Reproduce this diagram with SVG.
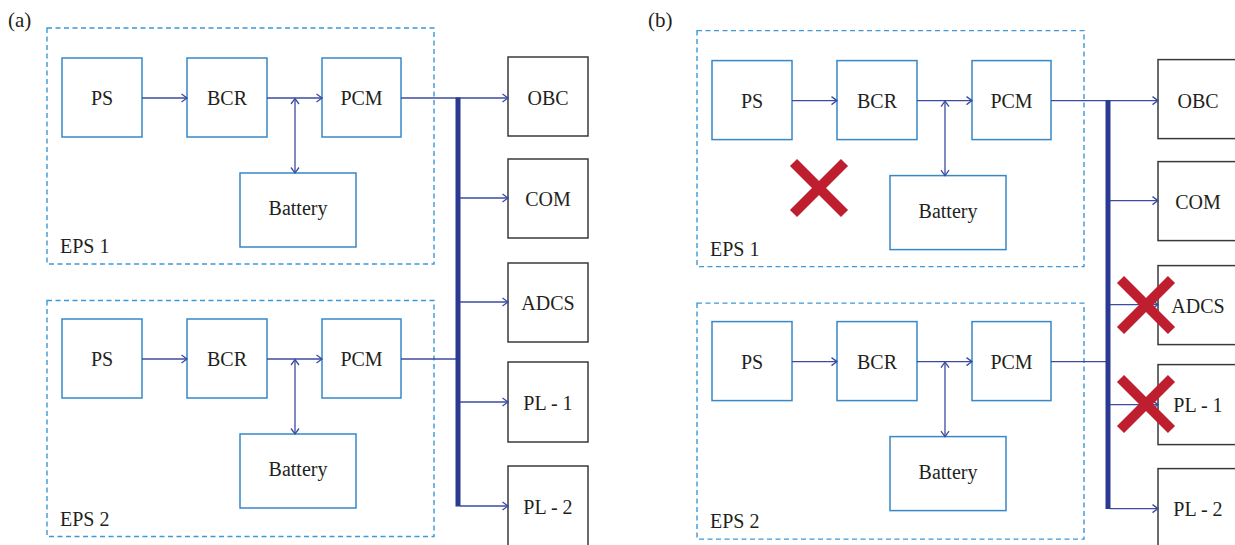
<svg xmlns="http://www.w3.org/2000/svg" width="1235" height="545" viewBox="0 0 1235 545" font-family="Liberation Serif, serif" font-size="20">
<style>
.lbl{text-anchor:middle}
.blue{fill:#fff;stroke:#3588c9;stroke-width:1.5}
.blk{fill:#fff;stroke:#3a3a3a;stroke-width:1.5}
.dash{fill:none;stroke:#3f97d6;stroke-width:1.4;stroke-dasharray:5 3.5}
.con{fill:none;stroke:#3c4ba0;stroke-width:1.3}
.arr{marker-end:url(#ah)}
.dbl{marker-start:url(#ah);marker-end:url(#ah)}
.bus{stroke:#2b3990;stroke-width:5}
.x{fill:none;stroke:#be1e2d;stroke-width:10;stroke-linecap:butt}
</style>
<defs>
<marker id="ah" markerUnits="userSpaceOnUse" markerWidth="10" markerHeight="10" refX="6" refY="4.5" orient="auto-start-reverse" overflow="visible">
<path d="M0.5,0.5 L6,4.5 L0.5,8.5" fill="none" stroke="#3c4ba0" stroke-width="1.3"/>
</marker>
</defs>
<rect width="1235" height="545" fill="#fff"/>

<text x="8" y="27" font-size="21" font-family="Liberation Serif" fill="#231f20">(a)</text>
<text x="648" y="27" font-size="21" font-family="Liberation Serif" fill="#231f20">(b)</text>

<!-- Panel (a) -->
<g id="panel-a">
<g id="a-eps1"><rect class="dash" x="47" y="28" width="387" height="236"/><text x="60" y="253" font-family="Liberation Serif" font-size="20" fill="#231f20">EPS 1</text></g>
<g id="a-eps2"><rect class="dash" x="47" y="300.5" width="387" height="236"/><text x="60" y="525.5" font-family="Liberation Serif" font-size="20" fill="#231f20">EPS 2</text></g>
<g id="a-ps1"><rect class="blue" x="62" y="58" width="80" height="79"/><text x="102" y="105" text-anchor="middle" font-family="Liberation Serif" font-size="20" fill="#231f20">PS</text></g>
<g id="a-bcr1"><rect class="blue" x="187" y="58" width="80" height="79"/><text x="227" y="105" text-anchor="middle" font-family="Liberation Serif" font-size="20" fill="#231f20">BCR</text></g>
<g id="a-pcm1"><rect class="blue" x="322" y="58" width="79" height="79"/><text x="361.5" y="105" text-anchor="middle" font-family="Liberation Serif" font-size="20" fill="#231f20">PCM</text></g>
<g id="a-bat1"><rect class="blue" x="240" y="173" width="116" height="74"/><text x="298" y="215" text-anchor="middle" font-family="Liberation Serif" font-size="20" fill="#231f20">Battery</text></g>
<g id="a-ps2"><rect class="blue" x="62" y="319" width="80" height="79"/><text x="102" y="366" text-anchor="middle" font-family="Liberation Serif" font-size="20" fill="#231f20">PS</text></g>
<g id="a-bcr2"><rect class="blue" x="187" y="319" width="80" height="79"/><text x="227" y="366" text-anchor="middle" font-family="Liberation Serif" font-size="20" fill="#231f20">BCR</text></g>
<g id="a-pcm2"><rect class="blue" x="322" y="319" width="79" height="79"/><text x="361.5" y="366" text-anchor="middle" font-family="Liberation Serif" font-size="20" fill="#231f20">PCM</text></g>
<g id="a-bat2"><rect class="blue" x="240" y="434" width="116" height="74"/><text x="298" y="476" text-anchor="middle" font-family="Liberation Serif" font-size="20" fill="#231f20">Battery</text></g>
<g id="a-obc"><rect class="blk" x="508" y="57" width="80" height="79"/><text x="548" y="105" text-anchor="middle" font-family="Liberation Serif" font-size="20" fill="#231f20">OBC</text></g>
<g id="a-com"><rect class="blk" x="508" y="159" width="80" height="79"/><text x="548" y="206" text-anchor="middle" font-family="Liberation Serif" font-size="20" fill="#231f20">COM</text></g>
<g id="a-adcs"><rect class="blk" x="508" y="263" width="80" height="79"/><text x="548" y="310" text-anchor="middle" font-family="Liberation Serif" font-size="20" fill="#231f20">ADCS</text></g>
<g id="a-pl1"><rect class="blk" x="508" y="362" width="80" height="80"/><text x="548" y="409.5" text-anchor="middle" font-family="Liberation Serif" font-size="20" fill="#231f20">PL - 1</text></g>
<g id="a-pl2"><rect class="blk" x="508" y="466" width="80" height="80"/><text x="548" y="513.5" text-anchor="middle" font-family="Liberation Serif" font-size="20" fill="#231f20">PL - 2</text></g>
<g id="a-connectors">
<line class="con arr" x1="142" y1="98" x2="187" y2="98"/>
<line class="con arr" x1="267" y1="98" x2="322" y2="98"/>
<line class="con dbl" x1="295" y1="98.5" x2="295" y2="173"/>
<line class="con arr" x1="142" y1="359" x2="187" y2="359"/>
<line class="con arr" x1="267" y1="359" x2="322" y2="359"/>
<line class="con dbl" x1="295" y1="359.5" x2="295" y2="434"/>
<line class="con arr" x1="401" y1="98" x2="508" y2="98"/>
<line class="con" x1="401" y1="359" x2="458" y2="359"/>
<line class="bus" x1="458" y1="97.5" x2="458" y2="506.5"/>
<line class="con arr" x1="460" y1="198" x2="508" y2="198"/>
<line class="con arr" x1="460" y1="302" x2="508" y2="302"/>
<line class="con arr" x1="460" y1="402" x2="508" y2="402"/>
<line class="con arr" x1="460" y1="506" x2="508" y2="506"/>
</g>
</g>

<!-- Panel (b) -->
<g id="panel-b" transform="translate(650,2.6)">
<g id="b-eps1"><rect class="dash" x="47" y="28" width="387" height="236"/><text x="60" y="253" font-family="Liberation Serif" font-size="20" fill="#231f20">EPS 1</text></g>
<g id="b-eps2"><rect class="dash" x="47" y="300.5" width="387" height="236"/><text x="60" y="525.5" font-family="Liberation Serif" font-size="20" fill="#231f20">EPS 2</text></g>
<g id="b-ps1"><rect class="blue" x="62" y="58" width="80" height="79"/><text x="102" y="105" text-anchor="middle" font-family="Liberation Serif" font-size="20" fill="#231f20">PS</text></g>
<g id="b-bcr1"><rect class="blue" x="187" y="58" width="80" height="79"/><text x="227" y="105" text-anchor="middle" font-family="Liberation Serif" font-size="20" fill="#231f20">BCR</text></g>
<g id="b-pcm1"><rect class="blue" x="322" y="58" width="79" height="79"/><text x="361.5" y="105" text-anchor="middle" font-family="Liberation Serif" font-size="20" fill="#231f20">PCM</text></g>
<g id="b-bat1"><rect class="blue" x="240" y="173" width="116" height="74"/><text x="298" y="215" text-anchor="middle" font-family="Liberation Serif" font-size="20" fill="#231f20">Battery</text></g>
<g id="b-ps2"><rect class="blue" x="62" y="319" width="80" height="79"/><text x="102" y="366" text-anchor="middle" font-family="Liberation Serif" font-size="20" fill="#231f20">PS</text></g>
<g id="b-bcr2"><rect class="blue" x="187" y="319" width="80" height="79"/><text x="227" y="366" text-anchor="middle" font-family="Liberation Serif" font-size="20" fill="#231f20">BCR</text></g>
<g id="b-pcm2"><rect class="blue" x="322" y="319" width="79" height="79"/><text x="361.5" y="366" text-anchor="middle" font-family="Liberation Serif" font-size="20" fill="#231f20">PCM</text></g>
<g id="b-bat2"><rect class="blue" x="240" y="434" width="116" height="74"/><text x="298" y="476" text-anchor="middle" font-family="Liberation Serif" font-size="20" fill="#231f20">Battery</text></g>
<g id="b-obc"><rect class="blk" x="508" y="57" width="80" height="79"/><text x="548" y="105" text-anchor="middle" font-family="Liberation Serif" font-size="20" fill="#231f20">OBC</text></g>
<g id="b-com"><rect class="blk" x="508" y="159" width="80" height="79"/><text x="548" y="206" text-anchor="middle" font-family="Liberation Serif" font-size="20" fill="#231f20">COM</text></g>
<g id="b-adcs"><rect class="blk" x="508" y="263" width="80" height="79"/><text x="548" y="310" text-anchor="middle" font-family="Liberation Serif" font-size="20" fill="#231f20">ADCS</text></g>
<g id="b-pl1"><rect class="blk" x="508" y="362" width="80" height="80"/><text x="548" y="409.5" text-anchor="middle" font-family="Liberation Serif" font-size="20" fill="#231f20">PL - 1</text></g>
<g id="b-pl2"><rect class="blk" x="508" y="466" width="80" height="80"/><text x="548" y="513.5" text-anchor="middle" font-family="Liberation Serif" font-size="20" fill="#231f20">PL - 2</text></g>
<g id="b-connectors">
<line class="con arr" x1="142" y1="98" x2="187" y2="98"/>
<line class="con arr" x1="267" y1="98" x2="322" y2="98"/>
<line class="con dbl" x1="295" y1="98.5" x2="295" y2="173"/>
<line class="con arr" x1="142" y1="359" x2="187" y2="359"/>
<line class="con arr" x1="267" y1="359" x2="322" y2="359"/>
<line class="con dbl" x1="295" y1="359.5" x2="295" y2="434"/>
<line class="con arr" x1="401" y1="98" x2="508" y2="98"/>
<line class="con" x1="401" y1="359" x2="458" y2="359"/>
<line class="bus" x1="458" y1="97.5" x2="458" y2="506.5"/>
<line class="con arr" x1="460" y1="198" x2="508" y2="198"/>
<line class="con arr" x1="460" y1="302" x2="508" y2="302"/>
<line class="con arr" x1="460" y1="402" x2="508" y2="402"/>
<line class="con arr" x1="460" y1="506" x2="508" y2="506"/>
</g>
</g>

<g id="failures">
<path class="x" d="M793.5,162.5 L844.5,213.5 M844.5,162.5 L793.5,213.5"/>
<path class="x" d="M1120.5,279.5 L1171.5,330.5 M1171.5,279.5 L1120.5,330.5"/>
<path class="x" d="M1120.5,378.5 L1171.5,429.5 M1171.5,378.5 L1120.5,429.5"/>
</g>
</svg>
